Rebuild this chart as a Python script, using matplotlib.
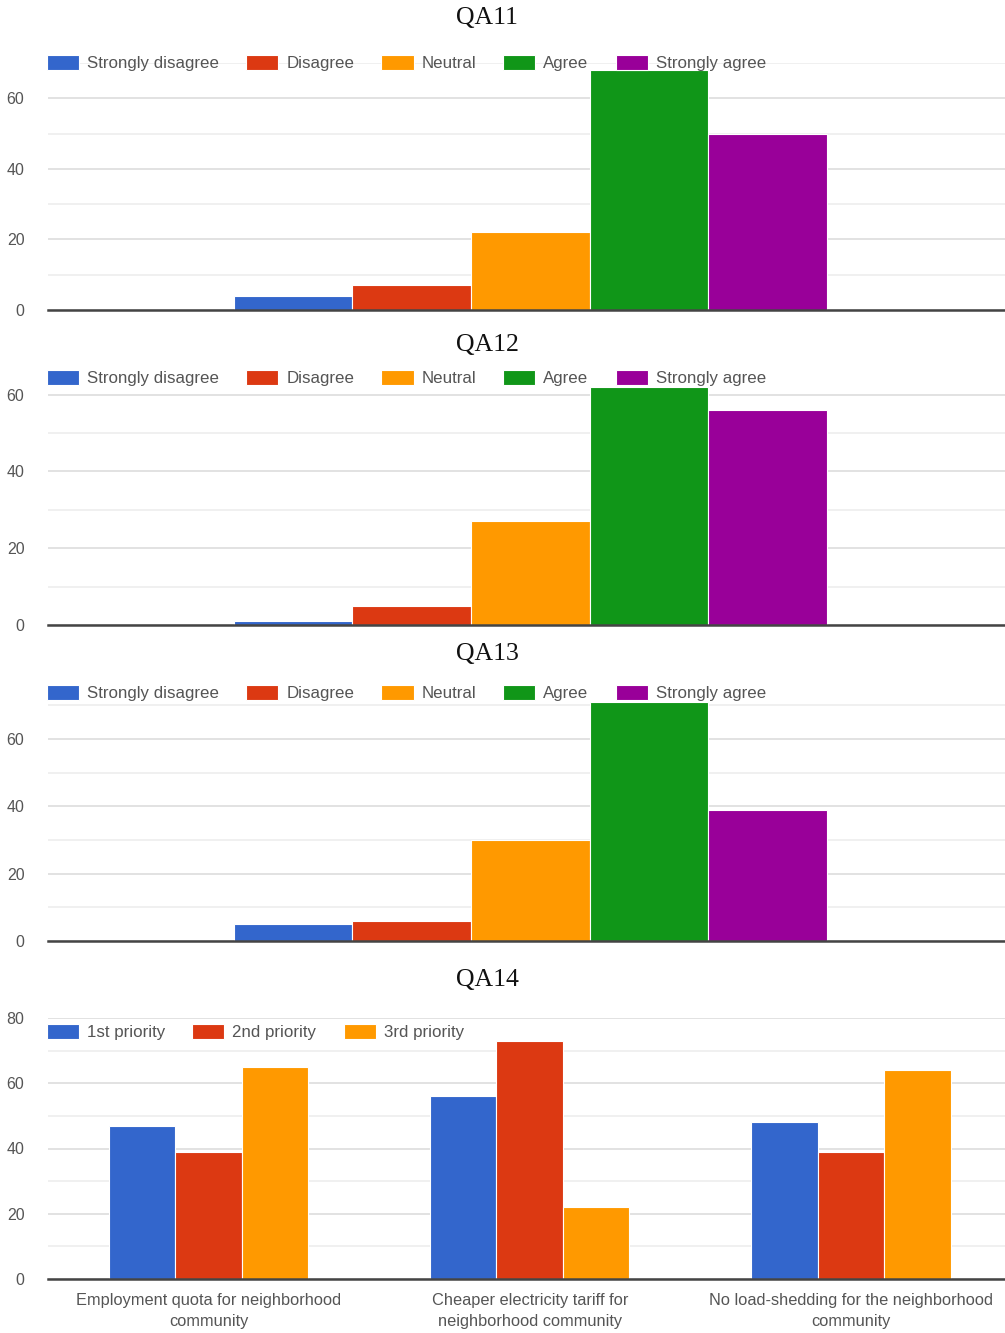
import numpy as np
from matplotlib import pyplot as plt
from matplotlib.ticker import MultipleLocator

likert = ['Strongly disagree', 'Disagree', 'Neutral', 'Agree', 'Strongly agree']
qa11 = [4, 7, 22, 68, 50]
qa12 = [1, 5, 27, 62, 56]
qa13 = [5, 6, 30, 71, 39]

priorities = ['1st priority', '2nd priority', '3rd priority']
qa14_items = ['Employment quota for neighborhood\ncommunity',
              'Cheaper electricity tariff for\nneighborhood community',
              'No load-shedding for the neighborhood\ncommunity']
qa14_first = [47, 56, 48]
qa14_second = [39, 73, 39]
qa14_third = [65, 22, 64]

colors = ['#3366cc', '#dc3912', '#ff9900', '#109618', '#990099']
txt_gray = '#555555'

plt.rcParams['font.family'] = 'Liberation Sans'

fig = plt.figure(figsize=(10.05, 13.33), dpi=100)
H = 1333.0
W = 1005.0

def px_axes(zero_y, top_y):
    # axes rect from pixel rows of the zero line and the top of the data area
    return [48 / W, 1 - zero_y / H, 1 - 48 / W, (zero_y - top_y) / H]

def style(ax, ymax, ytop):
    ax.set_ylim(0, ytop)
    ax.yaxis.set_minor_locator(MultipleLocator(10))
    ax.set_yticks(np.arange(0, ymax + 1, 20))
    ax.grid(axis='y', which='major', color='#dddddd', lw=1.2, zorder=0)
    ax.grid(axis='y', which='minor', color='#eeeeee', lw=1.2, zorder=0)
    ax.set_axisbelow(True)
    for s in ['top', 'right', 'left']:
        ax.spines[s].set_visible(False)
    ax.spines['bottom'].set_color('#444444')
    ax.spines['bottom'].set_linewidth(1.8)
    ax.spines['bottom'].set_zorder(5)
    ax.tick_params(axis='y', which='both', length=0, pad=17, labelsize=11.5, labelcolor=txt_gray)
    ax.tick_params(axis='x', length=0)

def legend(ax, y_px):
    ax.legend(loc='center left', bbox_to_anchor=(40 / W, 1 - y_px / H),
              bbox_transform=fig.transFigure, ncol=5, frameon=False,
              fontsize=12.2, labelcolor=txt_gray, handlelength=1.9, handleheight=1.0,
              handletextpad=0.47, columnspacing=1.6, borderaxespad=0)

panels = [(qa11, 'QA11', 310, 63, 70, 18, 63),
          (qa12, 'QA12', 625, 387, 62, 345, 378),
          (qa13, 'QA13', 941, 702, 71, 654, 693)]

bw = 0.124
for vals, title, zy, ty, ytop, title_y, leg_y in panels:
    ax = fig.add_axes(px_axes(zy, ty))
    offs = (np.arange(len(vals)) - 2) * bw + 0.004
    for i, v in enumerate(vals):
        ax.bar(offs[i], v, width=bw, color=colors[i], edgecolor='white', lw=0.8,
               label=likert[i], zorder=3)
    ax.set_xlim(-0.5, 0.5)
    ax.set_xticks([])
    style(ax, 60, ytop)
    legend(ax, leg_y)
    fig.text(487 / W, 1 - title_y / H, title, family='Liberation Serif', fontsize=18.5,
             ha='center', va='center', color='#111111')

# QA14
ax = fig.add_axes(px_axes(1279, 1018))
x = np.arange(len(qa14_items))
bw4 = 0.207
series = [qa14_first, qa14_second, qa14_third]
for i, s in enumerate(series):
    ax.bar(x + (i - 1) * bw4, s, width=bw4, color=colors[i], edgecolor='white', lw=0.8,
           label=priorities[i], zorder=3)
ax.set_xlim(-0.5, 2.48)
ax.set_xticks(x)
ax.set_xticklabels(qa14_items, fontsize=11.8, color=txt_gray, linespacing=1.5)
ax.tick_params(axis='x', pad=10)
style(ax, 80, 80)
legend(ax, 1032)
fig.text(487 / W, 1 - 980 / H, 'QA14', family='Liberation Serif', fontsize=18.5,
         ha='center', va='center', color='#111111')

fig.savefig('out.png', dpi=100, facecolor='white')
